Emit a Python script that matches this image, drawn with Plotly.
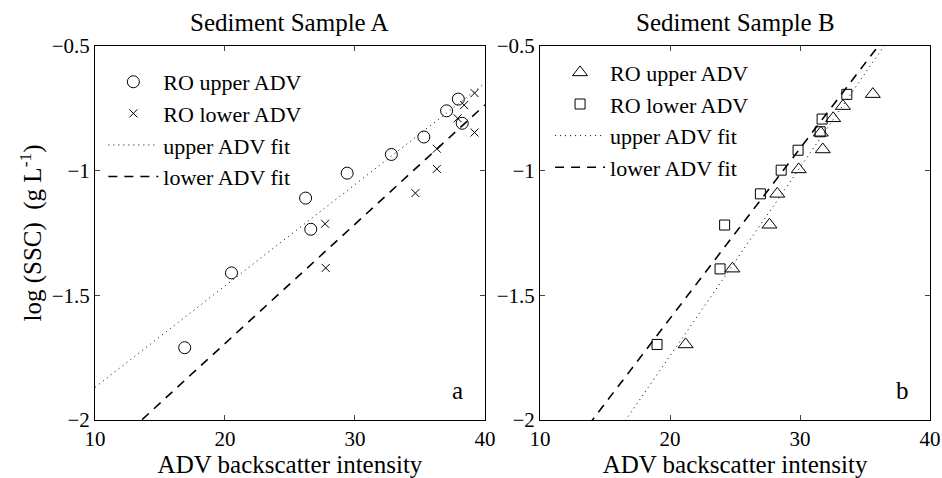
import plotly.graph_objects as go

# ---- Data: Sediment Sample A ----
a_up_x = [16.9, 20.5, 26.2, 26.6, 29.4, 32.8, 35.3, 37.05, 37.95, 38.25]
a_up_y = [-1.71, -1.41, -1.11, -1.235, -1.01, -0.935, -0.865, -0.76, -0.713, -0.81]
a_lo_x = [27.7, 27.75, 34.65, 36.3, 36.3, 37.9, 38.4, 39.2, 39.2]
a_lo_y = [-1.213, -1.39, -1.09, -0.993, -0.912, -0.79, -0.737, -0.689, -0.847]
# fits: y = slope * x + intercept
a_up_fit = (0.04067, -2.2757)
a_lo_fit = (0.04786, -2.6504)

# ---- Data: Sediment Sample B ----
b_up_x = [21.2, 24.8, 27.65, 28.25, 29.9, 31.75, 31.6, 32.55, 33.3, 35.6]
b_up_y = [-1.697, -1.393, -1.217, -1.093, -0.995, -0.915, -0.848, -0.79, -0.741, -0.693]
b_lo_x = [19.0, 23.85, 24.2, 26.95, 28.55, 29.85, 31.55, 31.7, 33.6]
b_lo_y = [-1.697, -1.394, -1.218, -1.093, -0.998, -0.918, -0.844, -0.793, -0.694]
b_up_fit = (0.0755, -3.2525)
b_lo_fit = (0.0682, -2.9568)

x_range = [10, 40]
y_range = [-2, -0.5]
x_ticks = [10, 20, 30, 40]
y_ticks = [-2, -1.5, -1, -0.5]
y_ticklabels = ["\u22122", "\u22121.5", "\u22121", "\u22120.5"]

FONT = "Liberation Serif"
fit_x = [x_range[0], x_range[1]]

def fit_y(p):
    return [p[0] * x + p[1] for x in fit_x]

fig = go.Figure()

mk = dict(color="black", width=1)
fig.add_trace(go.Scatter(x=a_up_x, y=a_up_y, mode="markers", name="RO upper ADV",
                         marker=dict(symbol="circle-open", size=12, color="black", line=mk),
                         xaxis="x", yaxis="y", legend="legend"))
fig.add_trace(go.Scatter(x=a_lo_x, y=a_lo_y, mode="markers", name="RO lower ADV",
                         marker=dict(symbol="x-thin-open", size=8, color="black", line=mk),
                         xaxis="x", yaxis="y", legend="legend"))
fig.add_trace(go.Scatter(x=fit_x, y=fit_y(a_up_fit), mode="lines", name="upper ADV fit",
                         line=dict(color="black", width=1, dash="1px,4px"),
                         xaxis="x", yaxis="y", legend="legend"))
fig.add_trace(go.Scatter(x=fit_x, y=fit_y(a_lo_fit), mode="lines", name="lower ADV fit",
                         line=dict(color="black", width=1.6, dash="9px,7px"),
                         xaxis="x", yaxis="y", legend="legend"))

fig.add_trace(go.Scatter(x=b_up_x, y=b_up_y, mode="markers", name="RO upper ADV",
                         marker=dict(symbol="triangle-up-open", size=13, color="black", line=mk),
                         xaxis="x2", yaxis="y2", legend="legend2"))
fig.add_trace(go.Scatter(x=b_lo_x, y=b_lo_y, mode="markers", name="RO lower ADV",
                         marker=dict(symbol="square-open", size=10, color="black", line=mk),
                         xaxis="x2", yaxis="y2", legend="legend2"))
fig.add_trace(go.Scatter(x=fit_x, y=fit_y(b_up_fit), mode="lines", name="upper ADV fit",
                         line=dict(color="black", width=1, dash="1px,4px"),
                         xaxis="x2", yaxis="y2", legend="legend2"))
fig.add_trace(go.Scatter(x=fit_x, y=fit_y(b_lo_fit), mode="lines", name="lower ADV fit",
                         line=dict(color="black", width=1.6, dash="9px,7px"),
                         xaxis="x2", yaxis="y2", legend="legend2"))

axis_common = dict(range=x_range, tickvals=x_ticks, ticks="inside", ticklen=5, automargin=False,
                   showline=True, linecolor="black", linewidth=1, mirror="allticks",
                   showgrid=False, zeroline=False, tickfont=dict(family=FONT, size=21, color="black"),
                   title=dict(text="ADV backscatter intensity", font=dict(family=FONT, size=25, color="black"), standoff=0))
yaxis_common = dict(range=y_range, tickvals=y_ticks, ticktext=y_ticklabels, ticks="inside", ticklen=5, automargin=False,
                    showline=True, linecolor="black", linewidth=1, mirror="allticks",
                    showgrid=False, zeroline=False, tickfont=dict(family=FONT, size=21, color="black"))

leg_common = dict(font=dict(family=FONT, size=22, color="black"), bgcolor="rgba(0,0,0,0)",
                  itemwidth=50, xanchor="left", yanchor="top")

fig.update_layout(
    width=942, height=478,
    margin=dict(l=95, r=12, t=46, b=58),
    paper_bgcolor="white", plot_bgcolor="white",
    showlegend=True,
    xaxis=dict(domain=[0, 0.467], anchor="y", **axis_common),
    yaxis=dict(domain=[0, 1], anchor="x",
               title=dict(text="log (SSC)  (g L<sup>-1</sup>)", font=dict(family=FONT, size=25, color="black"), standoff=2),
               **yaxis_common),
    xaxis2=dict(domain=[0.533, 1], anchor="y2", **axis_common),
    yaxis2=dict(domain=[0, 1], anchor="x2", **yaxis_common),
    legend=dict(x=0.01, y=0.96, **leg_common),
    legend2=dict(x=0.545, y=0.985, **leg_common),
    annotations=[
        dict(text="Sediment Sample A", xref="x domain", yref="paper", x=0.5, y=1.0, yshift=8,
             xanchor="center", yanchor="bottom", showarrow=False, font=dict(family=FONT, size=25, color="black")),
        dict(text="Sediment Sample B", xref="x2 domain", yref="paper", x=0.5, y=1.0, yshift=8,
             xanchor="center", yanchor="bottom", showarrow=False, font=dict(family=FONT, size=25, color="black")),
        dict(text="a", xref="x domain", yref="y domain", x=0.93, y=0.08, xanchor="center", yanchor="middle",
             showarrow=False, font=dict(family=FONT, size=25, color="black")),
        dict(text="b", xref="x2 domain", yref="y2 domain", x=0.93, y=0.08, xanchor="center", yanchor="middle",
             showarrow=False, font=dict(family=FONT, size=25, color="black")),
    ],
)

fig.write_html("out.html")
